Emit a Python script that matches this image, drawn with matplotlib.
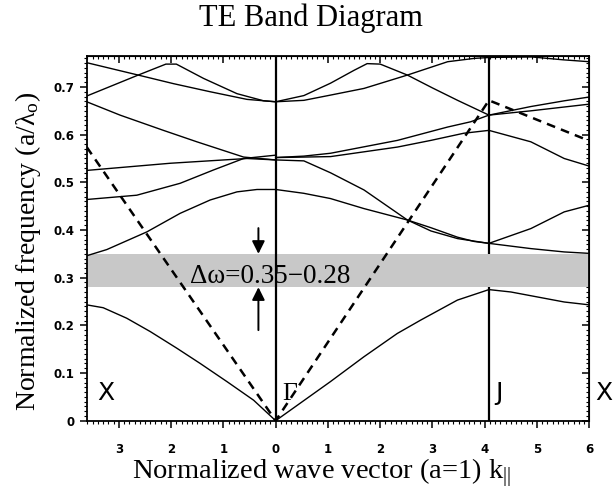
import numpy as np
import matplotlib
matplotlib.use("Agg")
import matplotlib.pyplot as plt
from matplotlib.ticker import MultipleLocator

plt.rcParams['font.family'] = ['Liberation Serif', 'DejaVu Serif']
plt.rcParams['mathtext.fontset'] = 'custom'
plt.rcParams['mathtext.rm'] = 'Liberation Serif'
plt.rcParams['mathtext.it'] = 'Liberation Serif:italic'

# symmetry points along the path X - Gamma - J - X (Gamma at 0, left branch negative)
K_X_LEFT = -3.615
K_GAMMA = 0.0
K_J = 4.08
K_X_RIGHT = 6.0

# bands on the X -> Gamma branch (k, freq)
left_bands = [
    ([-3.615, -3.3, -2.85, -2.40, -1.89, -1.443, -0.932, -0.422, 0.0],
     [0.243, 0.237, 0.215, 0.187, 0.152, 0.120, 0.082, 0.043, 0.0]),
    ([-3.615, -3.23, -2.465, -1.827, -1.252, -0.74, -0.357, 0.0],
     [0.346, 0.359, 0.396, 0.435, 0.463, 0.480, 0.485, 0.485]),
    ([-3.615, -2.657, -1.827, -1.188, -0.613, 0.0],
     [0.464, 0.473, 0.498, 0.526, 0.550, 0.557]),
    ([-3.615, -2.018, -0.548, 0.0],
     [0.525, 0.540, 0.550, 0.547]),
    ([-3.615, -2.977, -2.147, -1.507, -0.613, 0.0],
     [0.669, 0.641, 0.609, 0.585, 0.553, 0.547]),
    ([-3.615, -2.63, -2.1, -1.9, -1.38, -0.74, -0.23, 0.0],
     [0.681, 0.725, 0.748, 0.748, 0.718, 0.686, 0.671, 0.669]),
    ([-3.615, -2.63, -1.955, -1.252, -0.548, 0.0],
     [0.751, 0.725, 0.707, 0.690, 0.674, 0.669]),
]

# bands on the Gamma -> J -> X branch
right_bands = [
    ([0.0, 1.048, 1.687, 2.327, 2.774, 3.477, 4.08, 4.5, 5.52, 6.0],
     [0.0, 0.082, 0.134, 0.183, 0.211, 0.253, 0.275, 0.270, 0.249, 0.243]),
    ([0.0, 0.537, 1.048, 1.687, 2.519, 2.965, 3.477, 3.795, 4.08, 4.882, 5.52, 6.0],
     [0.485, 0.477, 0.466, 0.445, 0.421, 0.405, 0.385, 0.376, 0.372, 0.361, 0.354, 0.351]),
    ([0.0, 0.54, 1.05, 1.69, 2.52, 2.97, 3.48, 4.08, 4.882, 5.52, 6.0],
     [0.547, 0.545, 0.520, 0.484, 0.421, 0.398, 0.382, 0.372, 0.403, 0.438, 0.452]),
    ([0.0, 0.54, 1.05, 2.33, 2.97, 3.60, 4.08, 4.882, 5.52, 6.0],
     [0.552, 0.553, 0.554, 0.574, 0.588, 0.603, 0.609, 0.585, 0.550, 0.534]),
    ([0.0, 0.54, 1.05, 2.33, 3.29, 3.73, 4.08, 4.882, 5.52, 6.0],
     [0.552, 0.555, 0.561, 0.588, 0.616, 0.627, 0.641, 0.659, 0.671, 0.679]),
    ([0.0, 0.54, 1.05, 1.5, 1.75, 2.0, 2.52, 3.0, 3.48, 4.08, 4.882, 5.52, 6.0],
     [0.669, 0.682, 0.708, 0.735, 0.749, 0.748, 0.725, 0.698, 0.672, 0.641, 0.650, 0.658, 0.664]),
    ([0.0, 0.54, 1.05, 1.69, 2.52, 3.29, 3.8, 4.1, 4.9, 5.5, 6.0],
     [0.669, 0.672, 0.683, 0.697, 0.725, 0.753, 0.760, 0.762, 0.763, 0.757, 0.753]),
]

# light line
light_k = [K_X_LEFT, K_GAMMA, K_J, K_X_RIGHT]
light_w = [0.574, 0.0, 0.672, 0.587]

gap_lo, gap_hi = 0.28, 0.35

xticks = [-3, -2, -1, 0, 1, 2, 3, 4, 5, 6]
xticklabels = ['3', '2', '1', '0', '1', '2', '3', '4', '5', '6']
yticks = [0, 0.1, 0.2, 0.3, 0.4, 0.5, 0.6, 0.7]
yticklabels = ['0', '0.1', '0.2', '0.3', '0.4', '0.5', '0.6', '0.7']

fig = plt.figure(figsize=(6.15, 4.94), dpi=100)
ax = fig.add_axes([86.7 / 615, 1 - 420.7 / 494, (589.3 - 86.7) / 615, (420.7 - 56) / 494])

# J line sits under the gap shading, Gamma line over it
ax.axvline(K_J, color='k', lw=1.6, zorder=1)
ax.axhspan(gap_lo, gap_hi, facecolor='#c8c8c8', edgecolor='none', zorder=2)
ax.axvline(K_GAMMA, color='k', lw=1.6, zorder=4)

for k, w in left_bands + right_bands:
    ax.plot(k, w, color='k', lw=1.0, zorder=3)

ax.plot(light_k, light_w, color='k', lw=1.8, dashes=(3.5, 2.5), zorder=5)

# gap markers
arrow_kw = dict(arrowstyle='-|>', color='k', lw=1.4, mutation_scale=19, shrinkA=0, shrinkB=0)
ax.annotate('', xy=(-0.33, gap_hi), xytext=(-0.33, 0.404), arrowprops=arrow_kw, zorder=6)
ax.annotate('', xy=(-0.33, gap_lo), xytext=(-0.33, 0.19), arrowprops=arrow_kw, zorder=6)
ax.text(-1.635, 0.289, 'Δω=0.35−0.28', fontsize=19.5, ha='left', va='baseline', zorder=6)

# symmetry point labels
sym_kw = dict(fontsize=18, va='baseline', family='DejaVu Sans')
ax.text(-3.42, 0.043, 'X', **sym_kw)
ax.text(0.12, 0.043, 'Γ', fontsize=18.5, va='baseline')
ax.text(4.21, 0.043, 'J', **sym_kw)
ax.text(6.12, 0.043, 'X', clip_on=False, **sym_kw)

ax.set_xlim(K_X_LEFT, K_X_RIGHT)
ax.set_ylim(0, 0.765)
ax.set_xticks(xticks)
ax.set_xticklabels(xticklabels)
ax.set_yticks(yticks)
ax.set_yticklabels(yticklabels)
ax.xaxis.set_minor_locator(MultipleLocator(0.1))
ax.yaxis.set_minor_locator(MultipleLocator(0.01))
for lab in ax.get_xticklabels() + ax.get_yticklabels():
    lab.set_family('DejaVu Sans')
    lab.set_fontweight('bold')
    lab.set_fontsize(8.5)
ax.tick_params(which='major', direction='out', length=5, width=1.1)
ax.tick_params(which='minor', direction='out', length=2.5, width=0.8)
ax.tick_params(axis='x', pad=11)
ax.tick_params(axis='y', pad=4)
for s in ax.spines.values():
    s.set_linewidth(1.3)

# inward ticks on top and right
top = ax.secondary_xaxis('top')
top.set_xticks(xticks)
top.xaxis.set_minor_locator(MultipleLocator(0.1))
top.tick_params(which='major', direction='in', length=5, width=1.1, labeltop=False)
top.tick_params(which='minor', direction='in', length=2.5, width=0.8)
right = ax.secondary_yaxis('right')
right.set_yticks(yticks)
right.yaxis.set_minor_locator(MultipleLocator(0.01))
right.tick_params(which='major', direction='in', length=5, width=1.1, labelright=False)
right.tick_params(which='minor', direction='in', length=2.5, width=0.8)

fig.text(0.505, 1 - 26 / 494, 'TE Band Diagram', fontsize=22, ha='center', va='baseline')
fig.text(0.523, 1 - 479 / 494, 'Normalized wave vector (a=1) k$_{\\mathrm{||}}$',
         fontsize=20.5, ha='center', va='baseline')
fig.text(0.045, 0.49, 'Normalized frequency (a/λ$_{\\mathrm{o}}$)', fontsize=20,
         rotation=90, ha='center', va='center')

fig.savefig('out.png', dpi=100)
